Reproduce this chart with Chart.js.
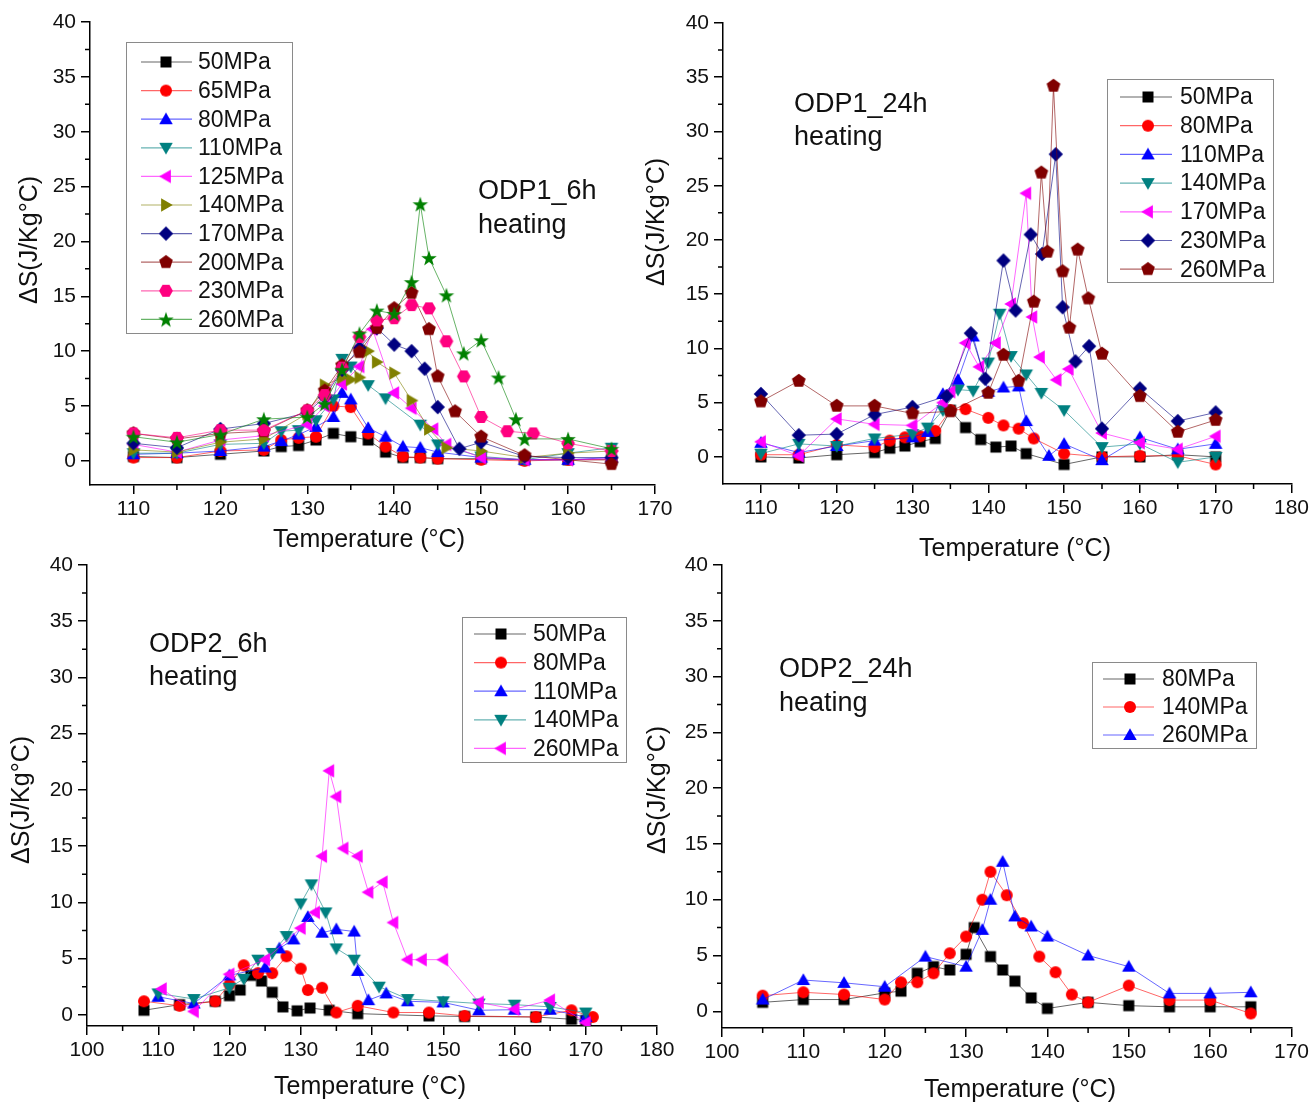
<!DOCTYPE html>
<html>
<head>
<meta charset="utf-8">
<script src="https://cdn.jsdelivr.net/npm/chart.js@4.4.0/dist/chart.umd.min.js"></script>
<style>
  body { margin: 0; background: #fff; width: 1312px; height: 1104px; position: relative; overflow: hidden; }
  canvas { position: absolute; }
</style>
</head>
<body>
<canvas id="c1"></canvas>
<canvas id="c2"></canvas>
<canvas id="c3"></canvas>
<canvas id="c4"></canvas>
<script>
// ---- tick values ----
const yTicks = [0, 5, 10, 15, 20, 25, 30, 35, 40];
const yMinor = [2.5, 7.5, 12.5, 17.5, 22.5, 27.5, 32.5, 37.5];
const xTicks1 = [110, 120, 130, 140, 150, 160, 170];
const xMinor1 = [115, 125, 135, 145, 155, 165];
const xTicks2 = [110, 120, 130, 140, 150, 160, 170, 180];
const xMinor2 = [115, 125, 135, 145, 155, 165, 175];
const xTicks3 = [100, 110, 120, 130, 140, 150, 160, 170, 180];
const xMinor3 = [105, 115, 125, 135, 145, 155, 165, 175];
const xTicks4 = [100, 110, 120, 130, 140, 150, 160, 170];
const xMinor4 = [105, 115, 125, 135, 145, 155, 165];

// ---- ODP1_6h heating: [temperature, dS] ----
const odp1_6h_50 = [[110,0.4],[115,0.3],[120,0.6],[125,0.9],[127,1.3],[129,1.4],[131,1.9],[133,2.5],[135,2.2],[137,1.9],[139,0.8],[141,0.3],[143,0.3],[145,0.2],[150,0.2],[155,0.1],[160,0.1],[165,0.1]];
const odp1_6h_65 = [[110,0.3],[115,0.3],[120,0.9],[125,1.0],[127,1.9],[129,2.1],[131,2.2],[133,5.0],[135,4.9],[137,2.5],[139,1.3],[141,0.4],[143,0.3],[145,0.2],[150,0.1],[155,0.0],[160,0.1],[165,0.1]];
const odp1_6h_80 = [[110,0.6],[115,0.7],[120,0.9],[125,1.3],[127,1.8],[129,2.4],[131,3.1],[133,4.0],[134,6.2],[135,5.6],[137,3.0],[139,2.2],[141,1.3],[143,1.2],[145,0.8],[150,0.3],[155,0.1],[160,0.1],[165,0.3]];
const odp1_6h_110 = [[110,0.7],[115,0.7],[120,1.5],[125,1.6],[127,2.7],[129,2.8],[131,3.7],[133,5.6],[134,9.3],[135,8.6],[137,6.9],[139,5.7],[143,3.3],[145,1.5],[150,0.4],[155,0.1],[160,0.7],[165,1.2]];
const odp1_6h_125 = [[110,1.5],[115,0.8],[120,1.9],[125,2.3],[130,3.3],[132,5.0],[134,7.0],[136,8.6],[137.5,12.0],[140,6.2],[142,4.8],[144.5,2.9],[146,1.5],[150,0.3],[155,0.1],[160,0.1],[165,0.2]];
const odp1_6h_140 = [[110,1.0],[115,0.8],[120,1.7],[125,2.0],[130,4.3],[132,6.9],[134,7.6],[135,7.4],[136,7.6],[137,10.0],[138,9.0],[140,8.0],[142,5.5],[144,2.9],[146,1.2],[150,0.9],[155,0.3],[160,0.7],[165,0.9]];
const odp1_6h_170 = [[110,1.6],[115,1.2],[120,2.9],[125,3.4],[130,4.4],[132,5.8],[134,8.3],[136,10.3],[138,12.1],[140,10.6],[142,10.0],[143.5,8.4],[145,4.9],[147.5,1.1],[150,1.7],[155,0.4],[160,0.3],[165,0.3]];
const odp1_6h_200 = [[110,2.5],[115,2.0],[120,2.5],[125,2.7],[130,4.6],[132,6.4],[134,8.7],[136,9.9],[138,12.1],[140,13.9],[142,15.3],[144,12.0],[145,7.7],[147,4.5],[150,2.2],[155,0.5],[165,-0.3]];
const odp1_6h_230 = [[110,2.5],[115,2.1],[120,2.8],[125,2.8],[130,4.6],[132,6.0],[134,8.5],[136,11.3],[138,12.8],[140,13.0],[142,14.2],[144,13.9],[146,10.9],[148,7.7],[150,4.0],[153,2.7],[156,2.5],[160,1.6],[165,0.9]];
const odp1_6h_260 = [[110,2.2],[115,1.7],[120,2.4],[125,3.8],[130,4.0],[132,5.2],[134,8.3],[136,11.6],[138,13.7],[140,13.4],[142,16.3],[143,23.4],[144,18.5],[146,15.1],[148,9.8],[150,11.0],[152,7.6],[154,3.8],[155,2.0],[160,2.0],[165,1.1]];

// ---- ODP1_24h heating ----
const odp1_24h_50 = [[110,0.0],[115,-0.1],[120,0.2],[125,0.4],[127,0.8],[129,1.0],[131,1.4],[133,1.7],[135,4.3],[137,2.7],[139,1.6],[141,0.9],[143,1.0],[145,0.3],[150,-0.7],[155,0.0],[160,0.0],[165,0.2],[170,0.0]];
const odp1_24h_80 = [[110,0.2],[115,0.2],[120,1.1],[125,0.9],[127,1.5],[129,1.8],[131,1.9],[133,2.4],[135,4.3],[137,4.4],[140,3.6],[142,2.9],[144,2.6],[146,1.7],[150,0.3],[155,0.0],[160,0.1],[165,0.1],[170,-0.7]];
const odp1_24h_110 = [[110,1.3],[115,0.4],[120,1.0],[125,1.5],[130,1.8],[132,2.3],[134,5.8],[136,7.1],[138,11.1],[140,6.0],[142,6.4],[144,6.5],[145,3.3],[148,0.1],[150,1.2],[155,-0.3],[160,1.8],[165,0.7],[170,1.2]];
const odp1_24h_140 = [[110,0.3],[115,1.2],[120,1.0],[125,1.7],[130,2.1],[132,2.7],[134,4.3],[136,6.2],[138,6.1],[140,8.7],[141.5,13.2],[143,9.3],[145,7.6],[147,5.9],[150,4.3],[155,0.9],[160,1.2],[165,-0.5],[170,0.0]];
const odp1_24h_170 = [[110,1.4],[115,0.1],[120,3.5],[125,3.0],[130,2.9],[134,5.0],[135,6.0],[137,10.5],[138.8,8.3],[141,10.5],[143,14.1],[145,24.3],[145.8,12.9],[146.8,9.2],[149,7.1],[150.6,8.1],[155,2.2],[160,1.3],[165,0.7],[170,1.9]];
const odp1_24h_230 = [[110,5.8],[115,2.0],[120,2.1],[125,3.9],[130,4.6],[134.5,5.6],[137.7,11.4],[139.6,7.2],[142,18.1],[143.6,13.5],[145.6,20.5],[147.1,18.7],[148.9,27.9],[149.8,13.8],[151.5,8.8],[153.3,10.2],[155,2.6],[160,6.3],[165,3.3],[170,4.1]];
const odp1_24h_260 = [[110,5.1],[115,7.0],[120,4.7],[125,4.7],[130,4.0],[135,4.2],[140,5.9],[142,9.4],[144,7.0],[146,14.3],[147,26.2],[147.8,18.9],[148.6,34.2],[149.8,17.1],[150.7,11.9],[151.8,19.1],[153.2,14.6],[155,9.5],[160,5.6],[165,2.3],[170,3.4]];

// ---- ODP2_6h heating ----
const odp2_6h_50 = [[108,0.4],[113,0.9],[118,1.2],[120,1.7],[121.5,2.2],[123,3.5],[124.5,3.0],[126,2.0],[127.5,0.7],[129.5,0.35],[131.3,0.6],[134,0.4],[138,0.1],[148,-0.1],[153,-0.15],[163,-0.2],[168,-0.4],[170,-0.5]];
const odp2_6h_80 = [[108,1.2],[113,0.8],[118,1.2],[120,2.7],[122,4.4],[124,3.7],[126,3.7],[128,5.2],[130,4.1],[131,2.2],[133,2.4],[135,0.2],[138,0.8],[143,0.2],[148,0.2],[153,-0.1],[163,-0.2],[168,0.4],[171,-0.2]];
const odp2_6h_110 = [[110,1.6],[115,1.0],[120,3.5],[125,4.2],[127,5.9],[129,6.7],[131,8.7],[133,7.3],[135,7.6],[137.5,7.4],[138,3.9],[139.5,1.3],[142,1.9],[145,1.2],[150,1.1],[155,0.4],[160,0.45],[165,0.45],[170,-0.2]];
const odp2_6h_140 = [[110,1.9],[115,1.4],[120,2.4],[122,3.2],[124,4.9],[126,5.5],[128,7.0],[130,9.9],[131.5,11.6],[133.5,9.1],[135,5.9],[137.5,4.9],[141,2.5],[145,1.4],[150,1.2],[155,1.0],[160,0.9],[165,0.7],[170,0.2]];
const odp2_6h_260 = [[110.5,2.3],[115,0.3],[120,3.6],[125,4.9],[130,7.7],[132,9.1],[133,14.1],[134,21.7],[135,19.4],[136,14.8],[138,14.1],[139.5,10.9],[141.5,11.8],[143,8.2],[145,4.9],[147,4.9],[150,4.9],[155,1.1],[160,0.5],[165,1.3],[170,-0.7]];

// ---- ODP2_24h heating ----
const odp2_24h_80 = [[105,0.8],[110,1.05],[115,1.05],[120,1.65],[122,1.8],[124,3.4],[126,4.0],[128,3.7],[130,5.1],[131,7.5],[133,4.9],[134.5,3.7],[136,2.7],[138,1.2],[140,0.25],[145,0.8],[150,0.5],[155,0.4],[160,0.4],[165,0.4]];
const odp2_24h_140 = [[105,1.4],[110,1.7],[115,1.5],[120,1.05],[122,2.6],[124,2.6],[126,3.4],[128,5.2],[130,6.7],[132,10.0],[133,12.5],[135,10.4],[137,7.9],[139,4.9],[141,3.5],[143,1.5],[145,0.8],[150,2.3],[155,1.0],[160,1.0],[165,-0.2]];
const odp2_24h_260 = [[105,1.05],[110,2.8],[115,2.55],[120,2.2],[125,4.9],[130,4.0],[132,7.3],[133,10.0],[134.5,13.4],[136,8.5],[138,7.6],[140,6.7],[145,5.0],[150,4.0],[155,1.6],[160,1.6],[165,1.7]];

const FONT = '"Liberation Sans", Arial, sans-serif';
const COL = {
  black: '#000000', red: '#FF0000', blue: '#0000FF', teal: '#008080', magenta: '#FF00FF',
  olive: '#808000', navy: '#000080', brown: '#800000', pink: '#FF0080', green: '#008000'
};

function lineColor(hex) {
  const n = parseInt(hex.slice(1), 16);
  return 'rgba(' + (n >> 16) + ',' + ((n >> 8) & 255) + ',' + (n & 255) + ',0.6)';
}

// marker glyphs drawn once into small canvases
function makeMarker(shape, color) {
  const c = document.createElement('canvas');
  c.width = 20; c.height = 20;
  const g = c.getContext('2d');
  g.fillStyle = color;
  g.translate(10, 10);
  g.beginPath();
  const poly = (n, r, rot) => {
    for (let i = 0; i < n; i++) {
      const a = rot + i * 2 * Math.PI / n;
      const px = r * Math.sin(a), py = -r * Math.cos(a);
      if (i) g.lineTo(px, py); else g.moveTo(px, py);
    }
    g.closePath();
  };
  switch (shape) {
    case 'square': g.rect(-5.5, -5.5, 11, 11); break;
    case 'circle': g.arc(0, 0, 6, 0, 2 * Math.PI); break;
    case 'up': g.translate(0, 1); poly(3, 7.8, 0); break;
    case 'down': g.translate(0, -1); poly(3, 7.8, Math.PI); break;
    case 'left': g.translate(1, 0); poly(3, 7.8, -Math.PI / 2); break;
    case 'right': g.translate(-1, 0); poly(3, 7.8, Math.PI / 2); break;
    case 'diamond': poly(4, 7.2, 0); break;
    case 'pentagon': poly(5, 7.2, 0); break;
    case 'hexagon': poly(6, 6.9, Math.PI / 6); break;
    case 'star':
      for (let i = 0; i < 10; i++) {
        const r = i % 2 ? 3.3 : 8.2, a = i * Math.PI / 5;
        const px = r * Math.sin(a), py = -r * Math.cos(a) + 0.8;
        if (i) g.lineTo(px, py); else g.moveTo(px, py);
      }
      g.closePath();
      break;
  }
  g.fill();
  return c;
}

const deco = {
  id: 'deco',
  afterDraw(chart, args, o) {
    const ctx = chart.ctx;
    const ox = o.left, oy = o.top;
    const xs = chart.scales.x, ys = chart.scales.y;
    const ca = chart.chartArea;
    ctx.save();
    // minor ticks
    ctx.strokeStyle = '#000';
    ctx.lineWidth = 1.5;
    ctx.beginPath();
    o.xMinor.forEach(v => {
      const p = xs.getPixelForValue(v);
      ctx.moveTo(p, ca.bottom); ctx.lineTo(p, ca.bottom + 5);
    });
    o.yMinor.forEach(v => {
      const p = ys.getPixelForValue(v);
      ctx.moveTo(ca.left, p); ctx.lineTo(ca.left - 5, p);
    });
    ctx.stroke();

    // axis titles
    ctx.fillStyle = '#111';
    ctx.textBaseline = 'middle';
    ctx.font = '25px ' + FONT;
    ctx.textAlign = 'center';
    ctx.fillText('Temperature (°C)', o.xTitle[0] - ox, o.xTitle[1] - oy);
    ctx.save();
    ctx.translate(o.yTitle[0] - ox, o.yTitle[1] - oy);
    ctx.rotate(-Math.PI / 2);
    ctx.fillText('ΔS(J/Kg°C)', 0, 0);
    ctx.restore();

    // sample note
    ctx.textAlign = 'left';
    ctx.font = '27px ' + FONT;
    o.note.lines.forEach((t, i) => ctx.fillText(t, o.note.x - ox, o.note.y + i * o.note.dy - oy));

    // legend
    const L = o.legend;
    ctx.strokeStyle = '#8a8a8a';
    ctx.lineWidth = 1;
    ctx.strokeRect(L.box[0] - ox + 0.5, L.box[1] - oy + 0.5, L.box[2] - L.box[0], L.box[3] - L.box[1]);
    ctx.font = '23px ' + FONT;
    chart.data.datasets.forEach((ds, i) => {
      const y = L.y0 + i * L.dy - oy;
      ctx.strokeStyle = ds.borderColor;
      ctx.lineWidth = 1.2;
      ctx.beginPath();
      ctx.moveTo(L.x1 - ox, y); ctx.lineTo(L.x2 - ox, y);
      ctx.stroke();
      const img = ds.pointStyle;
      ctx.drawImage(img, L.xm - ox - img.width / 2, y - img.height / 2);
      ctx.fillStyle = '#111';
      ctx.fillText(ds.label, L.xt - ox, y + 1);
    });
    ctx.restore();
  }
};

const XH = 40;

function makeChart(id, P) {
  const cv = document.getElementById(id);
  const [cl, ct, cw, ch] = P.canvas;
  cv.width = cw; cv.height = ch;
  cv.style.left = cl + 'px'; cv.style.top = ct + 'px';
  cv.style.width = cw + 'px'; cv.style.height = ch + 'px';
  const axisGrid = { drawOnChartArea: false, drawTicks: true, tickLength: 9, color: '#000', lineWidth: 1.5 };
  const axisBorder = { display: true, color: '#000', width: 1.5 };
  const tickFont = { family: FONT, size: 21 };

  new Chart(cv, {
    type: 'line',
    data: {
      datasets: P.series.map(s => ({
        label: s.label,
        data: s.data.map(([x, y]) => ({ x, y })),
        borderColor: lineColor(s.color),
        borderWidth: 1,
        pointStyle: makeMarker(s.shape, s.color),
        pointRadius: 6,
        tension: 0,
        fill: false
      })).map((d, i, arr) => Object.assign(d, { order: arr.length - i }))
    },
    options: {
      responsive: false,
      animation: false,
      events: [],
      layout: {
        padding: {
          left: 0,
          top: P.area[1] - ct,
          right: cl + cw - P.area[2],
          bottom: ct + ch - P.area[3] - XH
        }
      },
      scales: {
        x: {
          type: 'linear',
          min: P.xRange[0], max: P.xRange[1],
          afterBuildTicks: s => { s.ticks = P.xTicks.map(v => ({ value: v })); },
          afterFit: s => { s.height = XH; },
          ticks: { font: tickFont, color: '#111', padding: 3, maxRotation: 0, autoSkip: false },
          grid: axisGrid,
          border: axisBorder
        },
        y: {
          type: 'linear',
          min: P.yRange[0], max: P.yRange[1],
          afterBuildTicks: s => { s.ticks = yTicks.map(v => ({ value: v })); },
          afterFit: s => { s.width = P.area[0] - cl; },
          ticks: { font: tickFont, color: '#111', padding: 5, autoSkip: false },
          grid: axisGrid,
          border: axisBorder
        }
      },
      plugins: {
        legend: { display: false },
        tooltip: { enabled: false },
        deco: {
          left: cl, top: ct,
          xMinor: P.xMinor, yMinor: yMinor,
          xTitle: P.xTitle, yTitle: P.yTitle,
          note: P.note,
          legend: P.legend
        }
      }
    },
    plugins: [deco]
  });
}

makeChart('c1', {
  canvas: [0, 0, 680, 560],
  area: [90, 22, 655, 485],
  xRange: [105, 170], yRange: [-2.2, 40],
  xTicks: xTicks1, xMinor: xMinor1,
  xTitle: [369, 540], yTitle: [30, 240],
  note: { x: 478, y: 192, dy: 34, lines: ['ODP1_6h', 'heating'] },
  legend: { box: [126, 42, 292, 333], y0: 62, dy: 28.6, x1: 141, x2: 192, xm: 166, xt: 198 },
  series: [
    { label: '50MPa', data: odp1_6h_50, color: COL.black, shape: 'square' },
    { label: '65MPa', data: odp1_6h_65, color: COL.red, shape: 'circle' },
    { label: '80MPa', data: odp1_6h_80, color: COL.blue, shape: 'up' },
    { label: '110MPa', data: odp1_6h_110, color: COL.teal, shape: 'down' },
    { label: '125MPa', data: odp1_6h_125, color: COL.magenta, shape: 'left' },
    { label: '140MPa', data: odp1_6h_140, color: COL.olive, shape: 'right' },
    { label: '170MPa', data: odp1_6h_170, color: COL.navy, shape: 'diamond' },
    { label: '200MPa', data: odp1_6h_200, color: COL.brown, shape: 'pentagon' },
    { label: '230MPa', data: odp1_6h_230, color: COL.pink, shape: 'hexagon' },
    { label: '260MPa', data: odp1_6h_260, color: COL.green, shape: 'star' }
  ]
});

makeChart('c2', {
  canvas: [640, 0, 672, 570],
  area: [723, 23, 1293, 484],
  xRange: [105, 180], yRange: [-2.5, 40],
  xTicks: xTicks2, xMinor: xMinor2,
  xTitle: [1015, 549], yTitle: [657, 222],
  note: { x: 794, y: 105, dy: 33, lines: ['ODP1_24h', 'heating'] },
  legend: { box: [1107, 79, 1273, 282], y0: 97, dy: 28.7, x1: 1120, x2: 1172, xm: 1148, xt: 1180 },
  series: [
    { label: '50MPa', data: odp1_24h_50, color: COL.black, shape: 'square' },
    { label: '80MPa', data: odp1_24h_80, color: COL.red, shape: 'circle' },
    { label: '110MPa', data: odp1_24h_110, color: COL.blue, shape: 'up' },
    { label: '140MPa', data: odp1_24h_140, color: COL.teal, shape: 'down' },
    { label: '170MPa', data: odp1_24h_170, color: COL.magenta, shape: 'left' },
    { label: '230MPa', data: odp1_24h_230, color: COL.navy, shape: 'diamond' },
    { label: '260MPa', data: odp1_24h_260, color: COL.brown, shape: 'pentagon' }
  ]
});

makeChart('c3', {
  canvas: [0, 545, 680, 559],
  area: [87, 565, 657, 1026],
  xRange: [100, 180], yRange: [-1, 40],
  xTicks: xTicks3, xMinor: xMinor3,
  xTitle: [370, 1087], yTitle: [22, 800],
  note: { x: 149, y: 645, dy: 33, lines: ['ODP2_6h', 'heating'] },
  legend: { box: [462, 617, 626, 762], y0: 634, dy: 28.6, x1: 474, x2: 526, xm: 501, xt: 533 },
  series: [
    { label: '50MPa', data: odp2_6h_50, color: COL.black, shape: 'square' },
    { label: '80MPa', data: odp2_6h_80, color: COL.red, shape: 'circle' },
    { label: '110MPa', data: odp2_6h_110, color: COL.blue, shape: 'up' },
    { label: '140MPa', data: odp2_6h_140, color: COL.teal, shape: 'down' },
    { label: '260MPa', data: odp2_6h_260, color: COL.magenta, shape: 'left' }
  ]
});

makeChart('c4', {
  canvas: [640, 545, 672, 559],
  area: [722, 565, 1294, 1028],
  xRange: [100, 170], yRange: [-1.5, 40],
  xTicks: xTicks4, xMinor: xMinor4,
  xTitle: [1020, 1090], yTitle: [658, 790],
  note: { x: 779, y: 670, dy: 34, lines: ['ODP2_24h', 'heating'] },
  legend: { box: [1092, 662, 1256, 748], y0: 679, dy: 28, x1: 1103, x2: 1154, xm: 1130, xt: 1162 },
  series: [
    { label: '80MPa', data: odp2_24h_80, color: COL.black, shape: 'square' },
    { label: '140MPa', data: odp2_24h_140, color: COL.red, shape: 'circle' },
    { label: '260MPa', data: odp2_24h_260, color: COL.blue, shape: 'up' }
  ]
});
</script>
</body>
</html>
